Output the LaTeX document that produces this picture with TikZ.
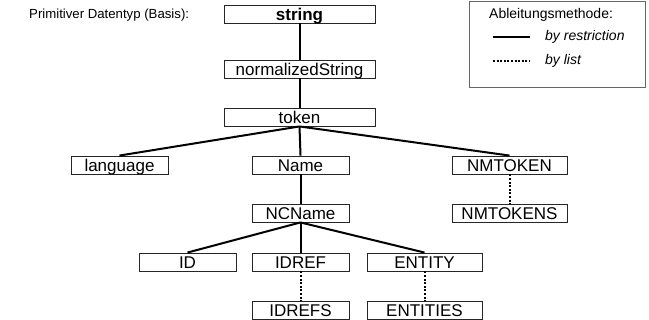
\documentclass[tikz,border=0pt]{standalone}
\usepackage{fontspec}
\setmainfont{Liberation Sans}
\begin{document}
\begin{tikzpicture}[x=1pt,y=-1pt,
  tbox/.style={draw=black!85, line width=0.9pt, minimum height=18pt, inner sep=0pt,
    text height=12.2pt, text depth=0pt, font=\fontsize{17}{20}\selectfont},
  nw/.style={tbox, minimum width=97pt},
  ww/.style={tbox, minimum width=115pt},
  sw/.style={tbox, minimum width=151pt},
  restr/.style={line width=2pt, black},
  lst/.style={line width=2pt, black, dash pattern=on 2pt off 1.6pt},
  legtext/.style={anchor=west, inner sep=0pt, font=\fontsize{14}{16}\selectfont}
]
\useasboundingbox (0,0) rectangle (649,320);

% legend
\node[draw=black!60, line width=0.9pt, minimum width=176pt, minimum height=86pt, inner sep=0pt] (legend) at (557,44) {};
\node[legtext] (legtitle) at (489,15) {Ableitungsmethode:};
\coordinate (ls1) at (493,37);
\coordinate (ls2) at (530,37);
\coordinate (ld1) at (493,61);
\coordinate (ld2) at (530,61);
\draw[restr] (ls1) -- (ls2);
\draw[lst] (ld1) -- (ld2);
\node[legtext] (lrestr) at (545,37) {\itshape by restriction};
\node[legtext] (llist) at (545,61) {\itshape by list};

% caption
\node[anchor=west, inner sep=0pt, font=\fontsize{13.2}{16}\selectfont] (prim) at (29,15) {Primitiver Datentyp (Basis):};

% nodes
\node[sw] (string) at (299.5,14) {\bfseries string};
\node[sw] (normalizedString) at (299.5,69) {normalizedString};
\node[sw] (token) at (299.5,117) {token};
\node[nw] (language) at (119.5,165) {language};
\node[nw] (Name) at (300.5,165) {Name};
\node[ww] (NMTOKEN) at (509.5,165) {NMTOKEN};
\node[nw] (NCName) at (300.5,213) {NCName};
\node[ww] (NMTOKENS) at (509.5,213) {NMTOKENS};
\node[nw] (ID) at (187.5,262) {ID};
\node[nw] (IDREF) at (300.5,262) {IDREF};
\node[ww] (ENTITY) at (424.5,262) {ENTITY};
\node[nw] (IDREFS) at (300.5,310) {IDREFS};
\node[ww] (ENTITIES) at (424.5,310) {ENTITIES};

% connectors
\draw[restr] (string.south) -- (normalizedString.north);
\draw[restr] (normalizedString.south) -- (token.north);
\draw[restr] (token.south) -- (language.north);
\draw[restr] (token.south) -- (Name.north);
\draw[restr] (token.south) -- (NMTOKEN.north);
\draw[restr] (Name.south) -- (NCName.north);
\draw[restr] (NCName.south) -- (ID.north);
\draw[restr] (NCName.south) -- (IDREF.north);
\draw[restr] (NCName.south) -- (ENTITY.north);
\draw[lst] (NMTOKEN.south) -- (NMTOKENS.north);
\draw[lst] (IDREF.south) -- (IDREFS.north);
\draw[lst] (ENTITY.south) -- (ENTITIES.north);
\end{tikzpicture}
\end{document}
